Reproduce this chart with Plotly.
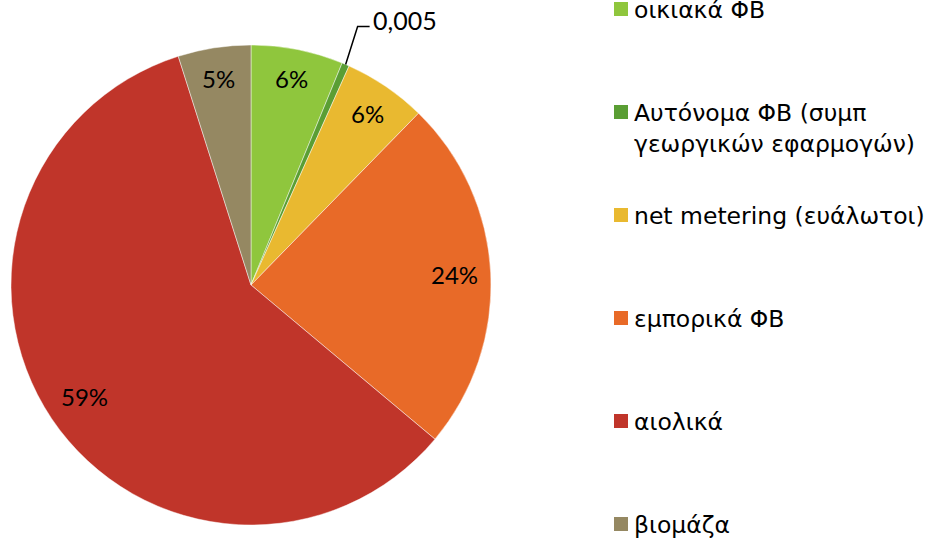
import math
import plotly.graph_objects as go

categories = ["οικιακά ΦΒ", "Αυτόνομα ΦΒ (συμπ γεωργικών εφαρμογών)", "net metering (ευάλωτοι)",
              "εμπορικά ΦΒ", "αιολικά", "βιομάζα"]
values = [6.2, 0.5, 5.6, 23.8, 59.0, 4.9]
slice_labels = ["6%", "0,005", "6%", "24%", "59%", "5%"]
legend_lines = [["οικιακά ΦΒ"], ["Αυτόνομα ΦΒ (συμπ", "γεωργικών εφαρμογών)"], ["net metering (ευάλωτοι)"],
                ["εμπορικά ΦΒ"], ["αιολικά"], ["βιομάζα"]]
colors = ["#8fc63d", "#5a9e34", "#e9b930", "#e86a28", "#c0352a", "#958862"]

W, H = 928, 539
cx, cy, R = 251, 285, 240


def px(x):
    return x / W


def py(y):
    return 1 - y / H


fig = go.Figure(go.Pie(
    labels=categories, values=values, sort=False, direction="clockwise", rotation=0,
    marker=dict(colors=colors, line=dict(color="rgba(255,255,255,0.45)", width=1)),
    textinfo="none", hoverinfo="label+value", showlegend=False,
    domain=dict(x=[px(cx - R), px(cx + R)], y=[py(cy + R), py(cy - R)]),
))

total = sum(values)
cum = 0
annotations = []
shapes = []
label_r = [0.875, 0, 0.865, 0.85, 0.835, 0.87]
for i, v in enumerate(values):
    mid = (cum + v / 2) / total * 2 * math.pi
    cum += v
    if i == 1:
        ex, ey = cx + R * math.sin(mid), cy - R * math.cos(mid)
        shapes.append(dict(type="path", xref="paper", yref="paper",
                           path=f"M {px(ex)} {py(ey)} L {px(ex + 12)} {py(ey - 38)} L {px(ex + 24)} {py(ey - 38)}",
                           line=dict(color="black", width=1.5)))
        annotations.append(dict(x=px(ex + 25), y=py(ey - 44), xref="paper", yref="paper",
                                text=slice_labels[i], showarrow=False, xanchor="left", yanchor="middle",
                                font=dict(family="Lato", size=25, color="black")))
        continue
    r = R * label_r[i]
    lx, ly = cx + r * math.sin(mid), cy - r * math.cos(mid)
    annotations.append(dict(x=px(lx), y=py(ly), xref="paper", yref="paper", text=slice_labels[i],
                            showarrow=False, xanchor="center", yanchor="middle",
                            font=dict(family="Lato", size=24, color="black")))

leg_y0, leg_step = 9, 103
for i, lines in enumerate(legend_lines):
    yc = leg_y0 + i * leg_step
    shapes.append(dict(type="rect", xref="paper", yref="paper", x0=px(614), x1=px(628),
                       y0=py(yc - 7), y1=py(yc + 7), fillcolor=colors[i], line=dict(width=0)))
    for j, t in enumerate(lines):
        annotations.append(dict(x=px(632), y=py(yc + 1 + j * 31), xref="paper", yref="paper", text=t,
                                showarrow=False, xanchor="left", yanchor="middle",
                                font=dict(family="DejaVu Sans", size=23.5, color="black")))

fig.update_layout(width=W, height=H, margin=dict(l=0, r=0, t=0, b=0),
                  paper_bgcolor="white", plot_bgcolor="white",
                  annotations=annotations, shapes=shapes)
fig.write_html("out.html", config={"displayModeBar": False},
               post_script="document.body.style.margin='0px';document.body.style.overflow='hidden';")
